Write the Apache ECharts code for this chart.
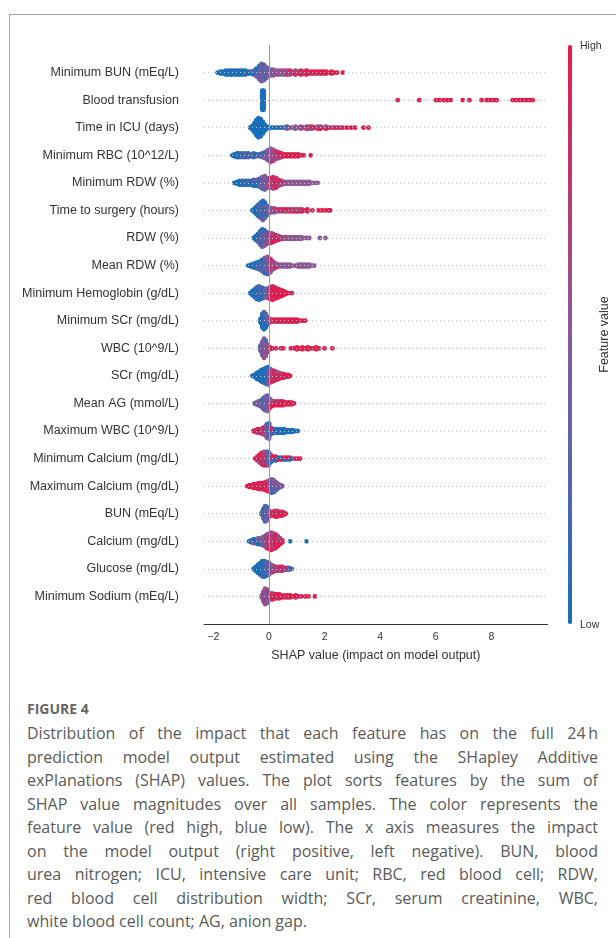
<!DOCTYPE html>
<html>
<head>
<meta charset="utf-8">
<script src="https://cdn.jsdelivr.net/npm/echarts@6/dist/echarts.min.js"></script>
<style>
  html,body{margin:0;padding:0;background:#fff;}
  body{width:616px;height:938px;position:relative;overflow:hidden;}
  #frame{position:absolute;left:9px;top:14px;width:620px;height:940px;border-top:1px solid #a3a3a3;border-left:1px solid #a3a3a3;}
  #chart{position:absolute;left:0;top:0;width:616px;height:690px;}
  #cap{position:absolute;left:27px;top:699px;width:571px;font-family:"Open Sans",sans-serif;color:#5a5a5a;}
  #cap .fig{font-weight:700;font-size:14px;line-height:20px;color:#666;margin-bottom:3px;}
  #cap .ln{font-size:16px;line-height:23.5px;text-align:justify;text-align-last:justify;}
  #cap .ln.last{text-align-last:left;}
</style>
</head>
<body>
<div id="frame"></div>
<div id="chart"></div>
<div id="cap">
  <div class="fig">FIGURE 4</div>
  <div class="ln">Distribution of the impact that each feature has on the full 24&#8201;h</div>
  <div class="ln">prediction model output estimated using the SHapley Additive</div>
  <div class="ln">exPlanations (SHAP) values. The plot sorts features by the sum of</div>
  <div class="ln">SHAP value magnitudes over all samples. The color represents the</div>
  <div class="ln">feature value (red high, blue low). The x axis measures the impact</div>
  <div class="ln">on the model output (right positive, left negative). BUN, blood</div>
  <div class="ln">urea nitrogen; ICU, intensive care unit; RBC, red blood cell; RDW,</div>
  <div class="ln">red blood cell distribution width; SCr, serum creatinine, WBC,</div>
  <div class="ln last">white blood cell count; AG, anion gap.</div>
</div>
<script>
// ---- data: features (top to bottom) ----
const features = ["Minimum BUN (mEq/L)","Blood transfusion","Time in ICU (days)","Minimum RBC (10^12/L)","Minimum RDW (%)","Time to surgery (hours)","RDW (%)","Mean RDW (%)","Minimum Hemoglobin (g/dL)","Minimum SCr (mg/dL)","WBC (10^9/L)","SCr (mg/dL)","Mean AG (mmol/L)","Maximum WBC (10^9/L)","Minimum Calcium (mg/dL)","Maximum Calcium (mg/dL)","BUN (mEq/L)","Calcium (mg/dL)","Glucose (mg/dL)","Minimum Sodium (mEq/L)"];

// per feature: [SHAP value, number of samples stacked at that value, feature value (0 low .. 1 high), second feature value mixed in]
const minBUN = [[-1.85,1,0],[-1.75,3,0],[-1.65,3,0],[-1.55,5,0],[-1.45,5,0],[-1.35,5,0],[-1.25,5,0],[-1.15,5,0,0.15],[-1.05,5,0],[-0.95,5,0],[-0.85,5,0,0.2],[-0.75,3,0],[-0.65,3,0,0.2],[-0.55,5,0,0.3],[-0.45,9,0,0.4],[-0.35,15,0.1,0.45],[-0.27,19,0.3,0.5],[-0.19,17,0.45,0.1],[-0.11,13,0.5,0.2],[-0.03,9,0.45,0.3],[0.05,7,0.5,0.35],[0.15,7,0.55,0.45],[0.25,5,0.5,0.6],[0.35,5,0.55,0.5],[0.45,5,0.6,0.5],[0.55,5,0.5,0.65],[0.65,5,0.6,0.8],[0.75,5,0.55,0.85],[0.85,3,0.7,0.9],[0.95,5,0.8,0.6],[1.05,3,0.9,0.65],[1.15,5,0.85,0.95],[1.25,3,0.95,0.7],[1.35,5,0.9,1],[1.45,3,0.95,0.8],[1.55,3,1,0.85],[1.65,3,0.9,1],[1.75,3,1,0.8],[1.85,3,0.95,1],[1.95,3,1,0.9],[2.05,3,1],[2.15,1,0.95],[2.25,3,1],[2.35,1,1],[2.45,1,1],[2.65,1,1]];
const bloodTransfusion = [[-0.24,21,0],[-0.2,21,0],[4.63,1,1],[5.41,1,1],[6.01,1,1],[6.14,1,1],[6.29,1,1],[6.42,1,1],[6.54,1,1],[6.97,1,1],[7.21,1,1],[7.65,1,1],[7.83,1,1],[7.95,1,1],[8.07,1,1],[8.19,1,1],[8.77,1,1],[8.89,1,1],[9.01,1,1],[9.13,1,1],[9.25,1,1],[9.37,1,1],[9.49,1,1]];
const timeICU = [[-0.68,1,0],[-0.6,5,0],[-0.52,11,0],[-0.45,17,0],[-0.38,21,0],[-0.3,19,0],[-0.22,13,0],[-0.15,7,0],[-0.08,3,0],[0,1,0],[0.08,1,0],[0.18,1,0],[0.28,1,0],[0.38,1,0.1],[0.47,1,0],[0.55,1,0.3],[0.65,3,0.5,0.2],[0.75,1,0.6],[0.85,1,0.45],[0.95,3,0.55,0.3],[1.05,1,0.5],[1.15,3,0.6,0.45],[1.25,1,0.7],[1.35,3,0.5,0.9],[1.45,3,0.6,0.8],[1.55,3,0.85,0.5],[1.65,1,0.9],[1.75,3,0.55,0.95],[1.85,3,0.95,0.7],[1.95,1,0.8],[2.05,3,0.95,0.5],[2.15,1,1],[2.25,1,0.65],[2.35,1,0.9],[2.45,1,1],[2.55,1,0.7],[2.65,1,0.95],[2.8,1,1],[2.95,1,1],[3.1,1,1],[3.4,1,1],[3.58,1,1]];
const minRBC = [[-1.32,1,0],[-1.25,3,0],[-1.15,5,0],[-1.05,5,0,0.2],[-0.95,5,0,0.3],[-0.85,5,0.1,0.4],[-0.75,5,0,0.3],[-0.65,3,0.4,0],[-0.55,5,0.1],[-0.45,3,0,0.4],[-0.35,3,0.2],[-0.25,5,0.4,0.1],[-0.15,7,0.5,0.2],[-0.05,11,0.55,0.3],[0.05,15,0.6,0.45],[0.15,13,0.75,0.5],[0.25,9,0.85,0.55],[0.35,7,0.9,0.7],[0.45,5,0.95,0.8],[0.55,3,1,0.9],[0.65,3,1],[0.75,3,0.95,1],[0.85,3,1],[0.95,3,1,0.9],[1.05,3,1],[1.15,1,1],[1.25,1,1],[1.5,1,1]];
const minRDW = [[-1.25,1,0],[-1.15,3,0],[-1.05,5,0],[-0.95,5,0,0.2],[-0.85,5,0],[-0.75,5,0.1,0.3],[-0.65,5,0],[-0.55,7,0.2,0],[-0.45,7,0,0.4],[-0.35,9,0.3,0.1],[-0.25,13,0.45,0.2],[-0.15,15,0.5,0.3],[-0.05,11,0.7,0.4],[0.05,11,0.85,0.5],[0.15,13,0.9,0.6],[0.25,11,0.8,0.95],[0.35,7,0.7,0.9],[0.45,5,0.6,0.8],[0.55,3,0.55,0.7],[0.65,3,0.5],[0.75,3,0.55,0.45],[0.85,3,0.5],[0.95,3,0.5,0.6],[1.05,3,0.55],[1.15,3,0.5],[1.25,3,0.5,0.55],[1.35,3,0.55],[1.45,3,0.5],[1.55,1,0.5],[1.65,1,0.55],[1.75,1,0.5]];
const timeSurgery = [[-0.6,1,0],[-0.52,5,0],[-0.45,9,0],[-0.38,13,0,0.2],[-0.3,17,0.1,0.3],[-0.22,21,0.3,0],[-0.15,17,0,0.4],[-0.08,11,0.4,0.1],[0,7,0.5,0.3],[0.08,5,0.6,0.4],[0.18,5,0.7,0.5],[0.28,3,0.8,0.55],[0.38,3,0.6,0.9],[0.48,3,0.85,0.6],[0.58,3,0.7,1],[0.68,3,0.9,0.6],[0.78,3,0.95,0.75],[0.88,3,0.8],[0.98,3,1,0.7],[1.08,3,0.6,0.95],[1.18,3,1,0.8],[1.28,1,0.9],[1.38,3,0.8,1],[1.56,1,0.95],[1.78,1,1],[1.9,1,1],[2.02,1,1],[2.14,1,1],[2.2,1,1]];
const rdw = [[-0.55,1,0],[-0.48,5,0],[-0.4,9,0,0.3],[-0.32,15,0.1,0.4],[-0.24,19,0.3,0],[-0.16,17,0.5,0.1],[-0.08,13,0.2,0.7],[0,11,0.8,0.4],[0.08,11,0.9,0.5],[0.16,9,1,0.6],[0.25,7,0.85,0.95],[0.35,5,0.9,0.6],[0.45,3,1,0.7],[0.55,3,0.55],[0.65,3,0.5,0.6],[0.75,3,0.5],[0.85,3,0.55],[0.95,3,0.5,0.45],[1.05,3,0.55],[1.15,3,0.5],[1.25,1,0.5],[1.35,1,0.55],[1.45,1,0.5],[1.83,1,0.5],[2.03,1,0.5]];
const meanRDW = [[-0.75,1,0],[-0.65,3,0],[-0.55,5,0],[-0.45,7,0,0.2],[-0.35,9,0.1,0.3],[-0.25,13,0.3,0],[-0.15,17,0.4,0.1],[-0.05,19,0.5,0.2],[0.05,15,0.55,0.8],[0.15,9,0.5,0.7],[0.25,5,0.55,0.9],[0.35,3,0.5],[0.45,3,0.55,0.6],[0.55,3,0.5],[0.65,3,0.5,0.45],[0.75,3,0.55],[0.85,1,0.5],[0.95,1,0.55],[1.05,3,0.5],[1.15,3,0.55,0.5],[1.25,3,0.5],[1.35,3,0.5,0.6],[1.45,3,0.5],[1.55,1,0.55],[1.63,1,0.5]];
const minHemoglobin = [[-0.68,1,0],[-0.6,5,0],[-0.52,9,0],[-0.44,13,0,0.2],[-0.36,15,0.1],[-0.28,13,0,0.3],[-0.2,11,0.2,0],[-0.12,9,0.3,0.5],[-0.04,11,0.5,0.2],[0.04,13,0.9,0.6],[0.12,15,1,0.8],[0.2,13,0.9,1],[0.28,11,1,0.85],[0.36,9,0.95,1],[0.44,7,1,0.9],[0.52,5,1],[0.6,3,1],[0.68,1,1],[0.82,1,1]];
const minSCr = [[-0.3,5,0],[-0.24,15,0],[-0.18,19,0,0.3],[-0.12,15,0.2,0],[-0.06,9,0.4,0],[0.02,5,0.6,0.8],[0.1,3,0.9,0.6],[0.2,3,1,0.7],[0.3,3,0.85,1],[0.4,3,1,0.8],[0.5,3,0.9],[0.6,3,1,0.85],[0.7,3,0.95],[0.8,3,1],[0.9,3,0.9,1],[1.0,3,1],[1.1,1,1],[1.2,1,0.95],[1.3,1,1]];
const wbc = [[-0.3,7,0.4,0.1],[-0.24,15,0.5,0.3],[-0.18,21,0.4,0.6],[-0.12,17,0.5,0.2],[-0.06,9,0.45,0.7],[0.04,3,0.9,0.5],[0.12,1,1],[0.25,1,1],[0.42,1,1],[0.52,1,1],[0.78,1,1],[0.9,1,1],[1.0,3,1],[1.1,1,1],[1.2,3,1],[1.3,1,1],[1.4,3,1],[1.5,1,1],[1.6,1,1],[1.7,3,1],[1.8,1,1],[2.0,1,1],[2.28,1,1]];
const scr = [[-0.6,1,0],[-0.52,3,0],[-0.44,7,0],[-0.36,9,0],[-0.28,13,0],[-0.2,15,0,0.2],[-0.12,17,0],[-0.04,19,0,0.4],[0.04,15,0.7,0.3],[0.12,13,0.9,0.5],[0.2,11,0.8,1],[0.28,9,1,0.6],[0.36,7,0.9,0.7],[0.44,5,1,0.8],[0.52,5,0.85],[0.6,3,1,0.9],[0.68,3,0.95],[0.76,1,1]];
const meanAG = [[-0.52,1,0.4],[-0.45,3,0.5,0.2],[-0.38,5,0.45],[-0.3,7,0.3,0.5],[-0.22,11,0.4,0.1],[-0.14,15,0.5,0.2],[-0.06,17,0.3,0.5],[0.02,11,0.4,0.8],[0.1,7,0.9,0.5],[0.2,5,1,0.7],[0.3,5,0.9,1],[0.4,5,1,0.85],[0.5,5,0.95],[0.6,3,1,0.8],[0.7,3,1],[0.8,3,0.95],[0.9,1,1]];
const maxWBC = [[-0.56,1,1],[-0.48,3,0.9],[-0.4,5,1,0.6],[-0.32,5,0.8,1],[-0.24,7,0.9,0.5],[-0.16,9,0.6,1],[-0.08,15,0.5,0.3],[0,17,0.4,0.2],[0.08,7,0.2,0.9],[0.16,5,0.1,0.8],[0.24,5,0,0.3],[0.34,5,0],[0.44,5,0,0.2],[0.54,5,0],[0.64,3,0],[0.74,3,0],[0.84,3,0],[0.94,1,0],[1.03,1,0]];
const minCalcium = [[-0.5,1,1],[-0.42,5,0.9],[-0.34,9,1,0.6],[-0.26,13,0.85,1],[-0.18,15,0.9,0.5],[-0.1,15,0.6,1],[-0.02,15,0.4,0.2],[0.06,9,0.1,0.5],[0.14,5,1,0.2],[0.24,5,0.1,0.9],[0.34,3,1,0],[0.44,3,0.2,1],[0.54,3,0,0.9],[0.64,3,1,0.1],[0.74,3,0,1],[0.84,1,0],[0.94,1,1],[1.04,1,1],[1.12,1,1]];
const maxCalcium = [[-0.78,1,1],[-0.7,3,1],[-0.62,3,0.95],[-0.54,5,1],[-0.46,5,0.9,1],[-0.38,7,1],[-0.3,7,0.95,0.8],[-0.22,7,1,0.85],[-0.14,9,0.9,1],[-0.06,11,0.7,1],[0.02,13,0.5,0.8],[0.1,15,0.4,0.1],[0.18,13,0.5,0.2],[0.26,9,0.3,0.6],[0.34,5,0.45,0.2],[0.42,3,0.5],[0.48,1,0.4]];
const bun = [[-0.26,3,0.2],[-0.2,11,0,0.4],[-0.14,17,0.3,0],[-0.08,15,0.1,0.5],[-0.02,9,0.4,0.2],[0.06,5,0.9,0.5],[0.14,5,1,0.7],[0.22,7,0.9,1],[0.3,7,1,0.6],[0.38,5,0.85,1],[0.46,5,1],[0.54,3,0.95,0.8],[0.6,1,1]];
const calcium = [[-0.72,1,0],[-0.64,3,0.1],[-0.56,5,0,0.4],[-0.48,5,0.3,0],[-0.4,7,0.1,0.5],[-0.32,7,0.4,0],[-0.24,9,0.5,0.2],[-0.16,11,0.6,0.3],[-0.08,15,0.8,0.4],[0,17,0.9,0.5],[0.08,19,1,0.6],[0.16,17,0.85,0.5],[0.24,15,0.9,1],[0.32,11,0.7,1],[0.4,7,0.95,0.6],[0.48,3,0.9],[0.76,1,0],[1.35,1,0]];
const glucose = [[-0.56,1,0],[-0.48,5,0],[-0.4,9,0],[-0.32,13,0],[-0.24,17,0,0.2],[-0.16,17,0.1],[-0.08,15,0,0.4],[0,13,0.5,0.2],[0.08,9,0.6,0.4],[0.16,7,0.5,0.8],[0.24,5,0.7,0.5],[0.32,5,0.9,0.6],[0.4,5,1,0.5],[0.48,5,0.8,1],[0.56,3,0.9,0.4],[0.64,3,1,0.2],[0.72,3,0.5,0.1],[0.82,1,0.1]];
const minSodium = [[-0.26,3,0.5],[-0.2,11,0.6,0.3],[-0.14,17,0.5,0.8],[-0.08,15,0.7,0.4],[-0.02,9,0.2,0.6],[0.06,7,0.9,0.5],[0.14,7,1,0.7],[0.22,5,0.9,1],[0.3,5,1,0.8],[0.38,5,0.95],[0.46,3,1,0.85],[0.56,3,1],[0.66,3,0.9],[0.76,3,1],[0.86,1,1],[0.96,3,1],[1.06,1,1],[1.16,1,0.95],[1.3,1,1],[1.42,1,1],[1.65,1,1]];

const rows = [minBUN,bloodTransfusion,timeICU,minRBC,minRDW,timeSurgery,rdw,meanRDW,minHemoglobin,minSCr,wbc,scr,meanAG,maxWBC,minCalcium,maxCalcium,bun,calcium,glucose,minSodium];

const xTicks = [-2, 0, 2, 4, 6, 8];
const xRange = [-2.34, 10.03];
const colorLabels = ["High", "Low"];

// ---- swarm layout (stack samples that share a value) ----
const STEP = 0.0348;
const points = [];
rows.forEach(function (bins, r) {
  bins.forEach(function (b, j) {
    const x = b[0], n = b[1], c1 = b[2], c2 = b[3];
    for (let i = 0; i < n; i++) {
      const k = Math.ceil(i / 2);
      const side = (i % 2) ? 1 : -1;
      const c = (c2 === undefined) ? c1 : (((k + j + (i % 2)) % 2) ? c2 : c1);
      points.push([x, r + side * k * STEP, c]);
    }
  });
});

const FONT = '"Liberation Sans", Arial, sans-serif';
const chart = echarts.init(document.getElementById('chart'), null, {renderer: 'canvas'});
chart.setOption({
  animation: false,
  textStyle: {fontFamily: FONT},
  grid: {left: 204, right: 68.3, top: 45, bottom: 66},
  xAxis: {
    type: 'value', min: xRange[0], max: xRange[1],
    axisLine: {show: true, onZero: false, lineStyle: {color: '#333', width: 1}},
    axisTick: {show: false},
    splitLine: {show: false},
    axisLabel: {
      customValues: xTicks, color: '#333', fontSize: 10.5, margin: 8, fontFamily: FONT,
      formatter: function (v) { return v < 0 ? '\u2212' + Math.abs(v) : String(v); }
    },
    name: 'SHAP value (impact on model output)', nameLocation: 'middle', nameGap: 25,
    nameTextStyle: {color: '#333', fontSize: 12.5, fontFamily: FONT}
  },
  yAxis: {
    type: 'value', min: -1, max: features.length, interval: 1, inverse: true,
    axisLine: {show: false, onZero: false}, axisTick: {show: false}, splitLine: {show: false},
    axisLabel: {
      color: '#333', fontSize: 12.5, margin: 25, fontFamily: FONT,
      formatter: function (v) { return features[v] !== undefined ? features[v] : ''; }
    }
  },
  visualMap: {
    type: 'continuous', min: 0, max: 1, dimension: 2, seriesIndex: 0,
    orient: 'vertical', left: 568, top: 45, itemWidth: 4, itemHeight: 579,
    padding: 0, calculable: false, hoverLink: false, text: null, showLabel: false,
    inRange: {color: ['#1a6fba', '#8b5a99', '#e61a4b']}
  },
  series: [
    {type: 'scatter', data: points, symbolSize: 4.8, z: 3, silent: true,
     itemStyle: {opacity: 1, borderWidth: 0}},
    {type: 'scatter', data: [], z: 1, silent: true,
     markLine: {silent: true, symbol: 'none', animation: false, label: {show: false},
       lineStyle: {color: '#c4c4c4', width: 1, type: [1, 3]},
       emphasis: {disabled: true},
       data: features.map(function (f, i) { return {yAxis: i}; })}},
    {type: 'scatter', data: [], z: 6, silent: true,
     markLine: {silent: true, symbol: 'none', animation: false, label: {show: false},
       lineStyle: {color: '#999999', width: 1, type: 'solid'},
       emphasis: {disabled: true},
       data: [{xAxis: 0}]}}
  ],
  graphic: [
    {type: 'text', x: 580, y: 46, silent: true,
     style: {text: colorLabels[0], fill: '#333', font: '10.5px ' + FONT, verticalAlign: 'middle'}},
    {type: 'text', x: 580, y: 625, silent: true,
     style: {text: colorLabels[1], fill: '#333', font: '10.5px ' + FONT, verticalAlign: 'middle'}},
    {type: 'text', x: 605, y: 334.5, rotation: Math.PI / 2, silent: true,
     style: {text: 'Feature value', fill: '#333', font: '12.5px ' + FONT, align: 'center', verticalAlign: 'middle'}}
  ]
});
</script>
</body>
</html>
